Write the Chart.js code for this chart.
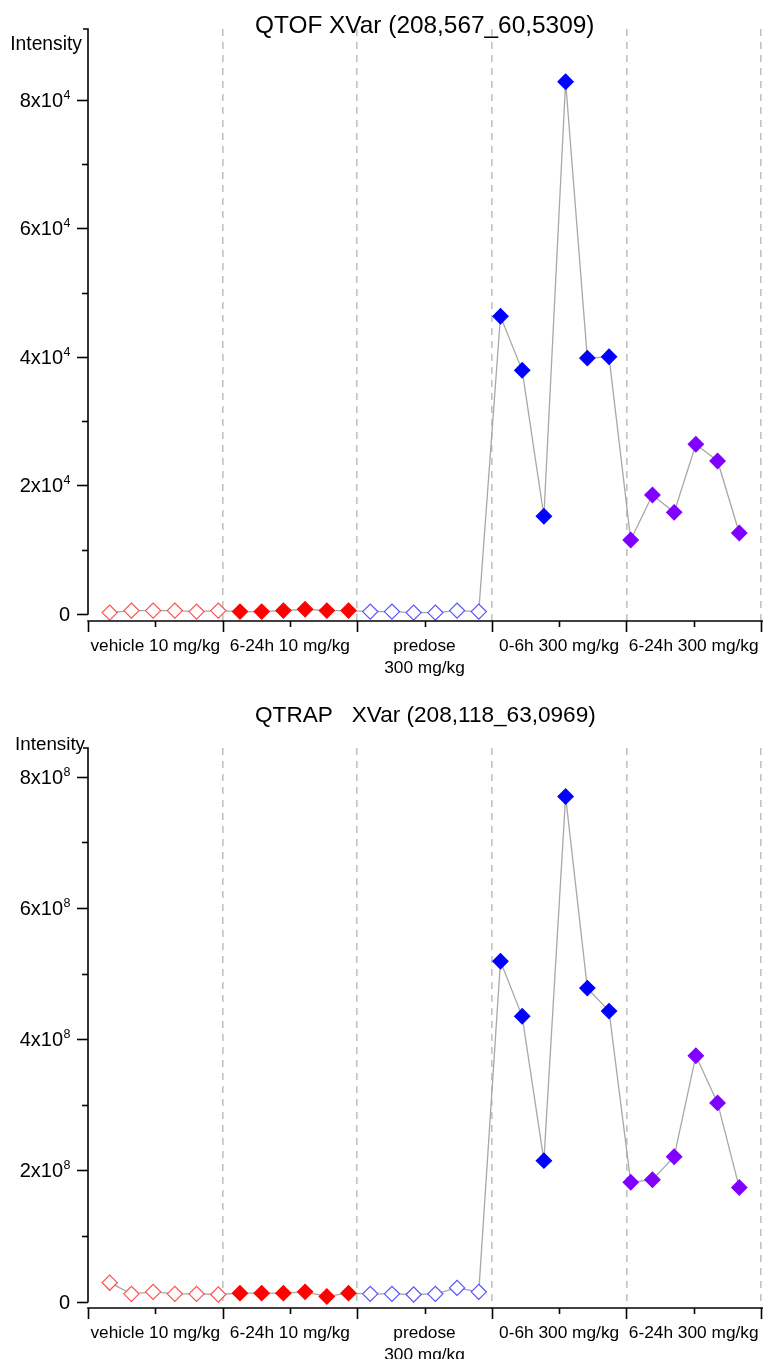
<!DOCTYPE html>
<html>
<head>
<meta charset="utf-8">
<title>XVar intensity profiles</title>
<script src="https://cdn.jsdelivr.net/npm/chart.js@4.4.1/dist/chart.umd.min.js"></script>
<style>
  html, body { margin: 0; padding: 0; background: #ffffff; }
  canvas { display: block; }
</style>
</head>
<body>
<canvas id="qtof" width="784" height="680"></canvas>
<canvas id="qtrap" width="784" height="679"></canvas>
<script>
// ---- groups along the x axis ----
const groupLabels = ['vehicle 10 mg/kg', '6-24h 10 mg/kg', ['predose', '300 mg/kg'], '0-6h 300 mg/kg', '6-24h 300 mg/kg'];

// ---- QTOF XVar (208,567_60,5309), six samples per group ----
const qtofVehicle10   = [210, 520, 520, 520, 360, 520];
const qtof6to24h10    = [360, 360, 520, 730, 520, 520];
const qtofPredose300  = [360, 360, 210, 210, 520, 360];
const qtof0to6h300    = [46300, 37900, 15200, 82800, 39800, 40000];
const qtof6to24h300   = [11500, 18500, 15800, 26400, 23800, 12600];
const qtofMajorTicks  = [0, 20000, 40000, 60000, 80000];
const qtofMinorTicks  = [10000, 30000, 50000, 70000];

// ---- QTRAP XVar (208,118_63,0969) ----
const qtrapVehicle10  = [0.29e8, 0.12e8, 0.15e8, 0.12e8, 0.12e8, 0.11e8];
const qtrap6to24h10   = [0.13e8, 0.13e8, 0.13e8, 0.15e8, 0.08e8, 0.13e8];
const qtrapPredose300 = [0.12e8, 0.12e8, 0.11e8, 0.12e8, 0.21e8, 0.15e8];
const qtrap0to6h300   = [5.19e8, 4.35e8, 2.15e8, 7.70e8, 4.78e8, 4.43e8];
const qtrap6to24h300  = [1.82e8, 1.86e8, 2.21e8, 3.75e8, 3.03e8, 1.74e8];
const qtrapMajorTicks = [0, 2e8, 4e8, 6e8, 8e8];
const qtrapMinorTicks = [1e8, 3e8, 5e8, 7e8];

// marker look of each group: outline colour and whether the diamond is hollow
const groupMarkers = [
  { color: '#ff4f4f', hollow: true },
  { color: '#ff0000', hollow: false },
  { color: '#5252ff', hollow: true },
  { color: '#0000ff', hollow: false },
  { color: '#8000ff', hollow: false }
];

const FONT = '"Liberation Sans", Arial, Helvetica, sans-serif';
const SAMPLES_PER_GROUP = 6;
const GROUP_SPAN = 6.2;   // x units between group separators (samples sit one unit apart)

Chart.defaults.font.family = FONT;
Chart.defaults.color = '#000';

// Group separators and group centres become the x-axis ticks
function xAxisTicks() {
  const t = [];
  for (let g = 0; g <= groupLabels.length; g++) {
    t.push({ value: g * GROUP_SPAN });
    if (g < groupLabels.length) t.push({ value: g * GROUP_SPAN + GROUP_SPAN / 2 });
  }
  return t;
}

// Axis lines, tick marks, exponent tick labels, axis title and chart title
const originAxes = {
  id: 'originAxes',
  afterDraw(chart, args, o) {
    const { ctx, chartArea: ca, scales: { x, y } } = chart;
    ctx.save();
    ctx.strokeStyle = '#000';
    ctx.lineWidth = 1.6;

    // vertical axis runs from zero up to the top of the plot
    const y0 = y.getPixelForValue(0);
    ctx.beginPath();
    ctx.moveTo(ca.left, y0 + 0.8);
    ctx.lineTo(ca.left, ca.top);
    ctx.lineTo(ca.left - 5, ca.top);
    ctx.stroke();

    o.major.forEach(v => {
      const py = Math.round(y.getPixelForValue(v)) + 0.5;
      ctx.beginPath(); ctx.moveTo(ca.left, py); ctx.lineTo(ca.left - 11, py); ctx.stroke();
    });
    o.minor.forEach(v => {
      const py = Math.round(y.getPixelForValue(v)) + 0.5;
      ctx.beginPath(); ctx.moveTo(ca.left, py); ctx.lineTo(ca.left - 6, py); ctx.stroke();
    });

    // horizontal axis sits slightly below zero
    const xb = ca.bottom;
    ctx.beginPath();
    ctx.moveTo(ca.left - 0.8, xb);
    ctx.lineTo(ca.right + 2, xb);
    ctx.stroke();
    x.ticks.forEach((t, i) => {
      const px = Math.round(x.getPixelForValue(t.value)) + 0.5;
      ctx.beginPath(); ctx.moveTo(px, xb); ctx.lineTo(px, xb + (i % 2 === 0 ? 11 : 6)); ctx.stroke();
    });

    // y tick labels written as Nx10^e
    ctx.fillStyle = '#000';
    ctx.textBaseline = 'alphabetic';
    const mainFont = '20px ' + FONT, supFont = '12.5px ' + FONT;
    o.major.forEach(v => {
      const py = y.getPixelForValue(v);
      const right = ca.left - 18;
      if (v === 0) {
        ctx.font = mainFont; ctx.textAlign = 'right';
        ctx.fillText('0', right, py + 7);
        return;
      }
      const mant = String(Math.round(v / Math.pow(10, o.exp)));
      const base = mant + 'x10', sup = String(o.exp);
      ctx.font = supFont; const ws = ctx.measureText(sup).width;
      ctx.font = mainFont; const wb = ctx.measureText(base).width;
      ctx.textAlign = 'left';
      ctx.fillText(base, right - ws - wb, py + 7);
      ctx.font = supFont;
      ctx.fillText(sup, right - ws + 0.5, py - 1);
    });

    // axis title
    ctx.font = o.yTitleSize + 'px ' + FONT;
    ctx.textAlign = 'right';
    ctx.fillText(o.yTitle, o.yTitleRight, o.yTitleBase);

    // chart title
    ctx.font = o.titleSize + 'px ' + FONT;
    ctx.textAlign = 'left';
    ctx.fillText(o.title, o.titleX, o.titleBase);
    ctx.restore();
  }
};

function buildChart(canvasId, groups, cfg) {
  const points = [], fills = [], borders = [];
  groups.forEach((vals, g) => {
    vals.forEach((v, j) => {
      points.push({ x: g * SAMPLES_PER_GROUP + j + 1, y: v });
      const m = groupMarkers[g];
      fills.push(m.hollow ? '#ffffff' : m.color);
      borders.push(m.color);
    });
  });

  return new Chart(document.getElementById(canvasId), {
    type: 'line',
    data: {
      datasets: [{
        data: points,
        borderColor: '#a8a8a8',
        borderWidth: 1.3,
        tension: 0,
        pointStyle: 'rectRot',
        pointRadius: 7.6,
        pointHoverRadius: 7.6,
        pointBackgroundColor: fills,
        pointBorderColor: borders,
        pointBorderWidth: 1.2
      }]
    },
    options: {
      responsive: false,
      animation: false,
      devicePixelRatio: 1,
      events: [],
      layout: { padding: { top: cfg.padTop, right: 23, left: 0, bottom: 0 } },
      plugins: {
        legend: { display: false },
        title: { display: false },
        tooltip: { enabled: false },
        originAxes: {
          major: cfg.major, minor: cfg.minor, exp: cfg.exp,
          yTitle: 'Intensity', yTitleSize: cfg.yTitleSize, yTitleRight: cfg.yTitleRight, yTitleBase: cfg.yTitleBase,
          title: cfg.title, titleSize: cfg.titleSize, titleX: 255, titleBase: cfg.titleBase
        }
      },
      scales: {
        x: {
          type: 'linear',
          min: 0,
          max: GROUP_SPAN * groupLabels.length,
          afterBuildTicks: s => { s.ticks = xAxisTicks(); },
          afterFit: s => { s.height = cfg.xHeight; },
          grid: {
            drawTicks: false,
            lineWidth: 1.6,
            color: c => (c.index > 0 && c.index % 2 === 0) ? '#c2c2c2' : 'rgba(0,0,0,0)'
          },
          border: { display: false, dash: [7, 6] },
          ticks: {
            autoSkip: false,
            maxRotation: 0,
            minRotation: 0,
            padding: 14,
            color: '#000',
            font: { size: 17.3, lineHeight: 1.3 },
            callback: (v, i) => (i % 2 === 1 ? groupLabels[(i - 1) / 2] : '')
          }
        },
        y: {
          type: 'linear',
          min: cfg.yMin,
          max: cfg.yMax,
          afterBuildTicks: s => { s.ticks = cfg.major.concat(cfg.minor).map(v => ({ value: v })); },
          afterFit: s => { s.width = 88; },
          grid: { display: false },
          border: { display: false },
          ticks: { display: false }
        }
      }
    },
    plugins: [originAxes]
  });
}

buildChart('qtof',
  [qtofVehicle10, qtof6to24h10, qtofPredose300, qtof0to6h300, qtof6to24h300],
  {
    title: 'QTOF XVar (208,567_60,5309)', titleSize: 24.4, titleBase: 33,
    yTitleSize: 19.3, yTitleRight: 82, yTitleBase: 50,
    padTop: 29, xHeight: 59,
    yMin: -1100, yMax: 91000, exp: 4,
    major: qtofMajorTicks, minor: qtofMinorTicks
  });

buildChart('qtrap',
  [qtrapVehicle10, qtrap6to24h10, qtrapPredose300, qtrap0to6h300, qtrap6to24h300],
  {
    title: 'QTRAP   XVar (208,118_63,0969)', titleSize: 22.6, titleBase: 42,
    yTitleSize: 18.8, yTitleRight: 85, yTitleBase: 70,
    padTop: 68, xHeight: 51,
    yMin: -0.096e8, yMax: 8.44e8, exp: 8,
    major: qtrapMajorTicks, minor: qtrapMinorTicks
  });
</script>
</body>
</html>
